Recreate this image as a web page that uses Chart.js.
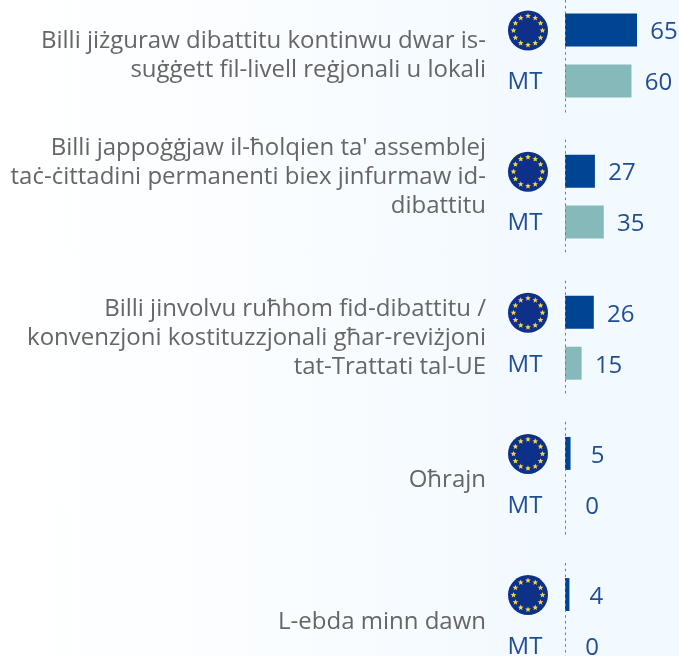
<!DOCTYPE html>
<html>
<head>
<meta charset="utf-8">
<script src="https://cdn.jsdelivr.net/npm/chart.js@4/dist/chart.umd.min.js"></script>
<style>
    html, body { margin: 0; padding: 0; overflow: hidden; }
    body { width: 679px; height: 656px; background: linear-gradient(90deg, #ffffff 0%, #fafdff 40%, #f2f9ff 80%); }
    canvas { display: block; }
</style>
</head>
<body>
<canvas id="chart" width="679" height="656"></canvas>
<script>
const categories = [
    ["Billi jiżguraw dibattitu kontinwu dwar is-", "suġġett fil-livell reġjonali u lokali"],
    ["Billi jappoġġjaw il-ħolqien ta' assemblej", "taċ-ċittadini permanenti biex jinfurmaw id-", "dibattitu"],
    ["Billi jinvolvu ruħhom fid-dibattitu /", "konvenzjoni kostituzzjonali għar-reviżjoni", "tat-Trattati tal-UE"],
    "Oħrajn",
    "L-ebda minn dawn"
];
const euValues = [65, 27, 26, 5, 4];
const mtValues = [60, 35, 15, 0, 0];
const labelShift = [0, -19, 0, 1, 2];

const FONT = "Open Sans";
const BLUE = "#1f4e96";

function drawEuFlag(ctx, x, y) {
    ctx.save();
    ctx.fillStyle = "#0e3088";
    ctx.beginPath();
    ctx.arc(x, y, 20, 0, Math.PI * 2);
    ctx.fill();
    ctx.fillStyle = "#f4d84a";
    for (let i = 0; i < 12; i++) {
        const a = i * Math.PI / 6;
        const sx = x + Math.sin(a) * 14.5;
        const sy = y - Math.cos(a) * 14.5;
        ctx.beginPath();
        for (let k = 0; k < 10; k++) {
            const r = k % 2 ? 1.3 : 3;
            const b = k * Math.PI / 5;
            ctx.lineTo(sx + Math.sin(b) * r, sy - Math.cos(b) * r);
        }
        ctx.closePath();
        ctx.fill();
    }
    ctx.restore();
}

// flags, MT tags, values and the dotted zero line
const extras = {
    id: "extras",
    afterLayout(chart) {
        // ticks.padding would squeeze the plot, so the labels are moved here
        chart.scales.y.getLabelItems(chart.chartArea).forEach(function(item, i) {
            item.options.translation[0] -= 79;
            item.options.translation[1] += labelShift[i];
        });
    },
    afterDatasetsDraw(chart) {
        const ctx = chart.ctx;
        const xs = chart.scales.x;
        const ys = chart.scales.y;
        const zero = xs.getPixelForValue(0);

        ctx.save();
        ctx.strokeStyle = "#77797c";
        ctx.lineWidth = 1;
        ctx.setLineDash([2.5, 3.3]);
        categories.forEach(function(c, i) {
            const mid = ys.getPixelForValue(i);
            ctx.beginPath();
            ctx.moveTo(zero + 0.5, Math.max(mid - 57, 0));
            ctx.lineTo(zero + 0.5, Math.min(mid + 57, 656));
            ctx.stroke();
        });
        ctx.setLineDash([]);

        ctx.font = "24px " + FONT;
        ctx.fillStyle = BLUE;
        ctx.textBaseline = "middle";
        ctx.textAlign = "center";
        chart.data.datasets.forEach(function(ds, d) {
            chart.getDatasetMeta(d).data.forEach(function(bar, i) {
                ctx.fillText(ds.data[i], bar.x + 27, bar.y + 2.5);
                if (d === 0) {
                    drawEuFlag(ctx, 528, bar.y + 0.5);
                } else {
                    ctx.fillText(ds.label, 525, bar.y + 1.5);
                }
            });
        });
        ctx.restore();
    }
};

new Chart(document.getElementById("chart").getContext("2d"), {
    type: "bar",
    data: {
        labels: categories,
        datasets: [
            { label: "UE", data: euValues, backgroundColor: "#004494", clip: false },
            { label: "MT", data: mtValues, backgroundColor: "#86baba", clip: false }
        ]
    },
    options: {
        indexAxis: "y",
        responsive: false,
        animation: false,
        categoryPercentage: 0.722,
        barPercentage: 0.647,
        layout: { autoPadding: false, padding: { top: 55.5, bottom: 36, right: 3.2 } },
        plugins: { legend: { display: false }, tooltip: { enabled: false } },
        scales: {
            x: { display: false, min: 0, max: 100 },
            y: {
                type: "category",
                offset: false,
                grid: { display: false, drawTicks: false },
                border: { display: false },
                afterFit: function(scale) { scale.width = 565; },
                ticks: {
                    autoSkip: false,
                    padding: 0,
                    color: "#666666",
                    font: { family: FONT, size: 24, lineHeight: "29px" }
                }
            }
        }
    },
    plugins: [extras]
});
</script>
</body>
</html>
